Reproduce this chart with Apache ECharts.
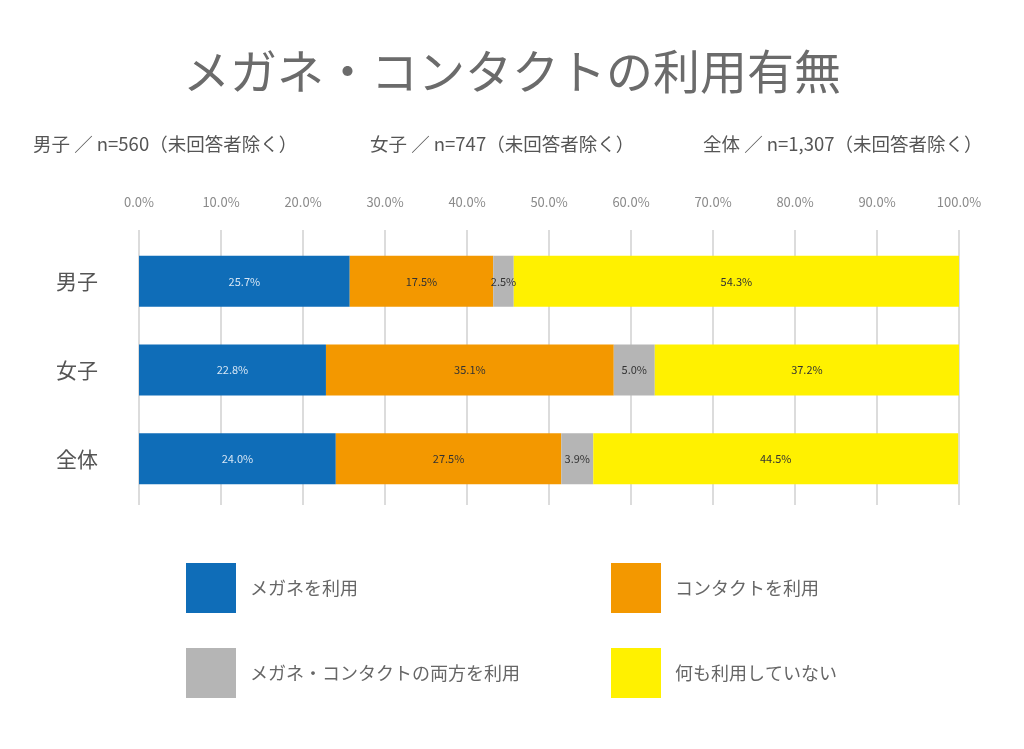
<!DOCTYPE html>
<html>
<head>
<meta charset="utf-8">
<script src="https://cdn.jsdelivr.net/npm/echarts@6/dist/echarts.min.js"></script>
<style>
html,body{margin:0;padding:0;background:#fff;}
#c{width:1024px;height:749px;}
</style>
</head>
<body>
<div id="c"></div>
<script>
const categories = ['男子', '女子', '全体'];
const seriesNames = ['メガネを利用', 'コンタクトを利用', 'メガネ・コンタクトの両方を利用', '何も利用していない'];
const glasses = [25.7, 22.8, 24.0];
const contacts = [17.5, 35.1, 27.5];
const both = [2.5, 5.0, 3.9];
const neither = [54.3, 37.2, 44.5];
const tickValues = [0, 10, 20, 30, 40, 50, 60, 70, 80, 90, 100];
const subtitles = ['男子 ／ n=560（未回答者除く）', '女子 ／ n=747（未回答者除く）', '全体 ／ n=1,307（未回答者除く）'];

const FONT = '"Noto Sans CJK JP", "Noto Sans", sans-serif';
const colors = ['#0F6DB8', '#F39800', '#B5B5B5', '#FFF100'];
const labelColors = ['#D6E6F5', '#333333', '#333333', '#333333'];
const dataSets = [glasses, contacts, both, neither];

const subStyle = { fontSize: 18.5, fontWeight: 'normal', color: '#555', fontFamily: FONT };
const chart = echarts.init(document.getElementById('c'));
chart.setOption({
  backgroundColor: '#ffffff',
  textStyle: { fontFamily: FONT },
  title: [
    { text: 'メガネ・コンタクトの利用有無', left: 'center', top: 43,
      textStyle: { fontSize: 47, fontWeight: 'normal', color: '#6b6b6b', fontFamily: FONT } },
    { text: subtitles[0], left: 28, top: 130, textStyle: subStyle },
    { text: subtitles[1], left: 365, top: 130, textStyle: subStyle },
    { text: subtitles[2], left: 698, top: 130, textStyle: subStyle }
  ],
  legend: [
    { data: [seriesNames[0], seriesNames[2]], orient: 'vertical', left: 181, top: 558,
      itemWidth: 50, itemHeight: 50, itemGap: 35, icon: 'rect', selectedMode: false,
      textStyle: { fontSize: 18, color: '#666', fontFamily: FONT, padding: [0, 0, 0, 9] } },
    { data: [seriesNames[1], seriesNames[3]], orient: 'vertical', left: 606, top: 558,
      itemWidth: 50, itemHeight: 50, itemGap: 35, icon: 'rect', selectedMode: false,
      textStyle: { fontSize: 18, color: '#666', fontFamily: FONT, padding: [0, 0, 0, 9] } }
  ],
  grid: [
    { left: 139, right: 65, top: 230, height: 275 },
    { left: 139, right: 65, top: 237, height: 266 }
  ],
  xAxis: [
    { gridIndex: 0, type: 'value', position: 'top', min: tickValues[0], max: tickValues[tickValues.length - 1], interval: 10,
      axisLine: { show: false }, axisTick: { show: false },
      axisLabel: { margin: 21, fontSize: 13, color: '#8a8a8a', fontFamily: FONT, formatter: v => v.toFixed(1) + '%' },
      splitLine: { show: true, lineStyle: { color: '#dcdcdc', width: 2 } } },
    { gridIndex: 1, type: 'value', min: 0, max: 100, show: false }
  ],
  yAxis: [
    { gridIndex: 0, type: 'category', data: categories, inverse: true, show: false },
    { gridIndex: 1, type: 'category', data: categories, inverse: true,
      axisLine: { show: false }, axisTick: { show: false },
      axisLabel: { margin: 41, fontSize: 21, color: '#555', fontFamily: FONT } }
  ],
  series: seriesNames.map((name, i) => ({
    name: name,
    type: 'bar',
    stack: 'total',
    xAxisIndex: 1,
    yAxisIndex: 1,
    barWidth: 51,
    itemStyle: { color: colors[i] },
    label: { show: true, position: 'inside', fontSize: 11, color: labelColors[i], fontFamily: FONT,
      formatter: p => p.value.toFixed(1) + '%' },
    data: dataSets[i]
  }))
});
</script>
</body>
</html>
